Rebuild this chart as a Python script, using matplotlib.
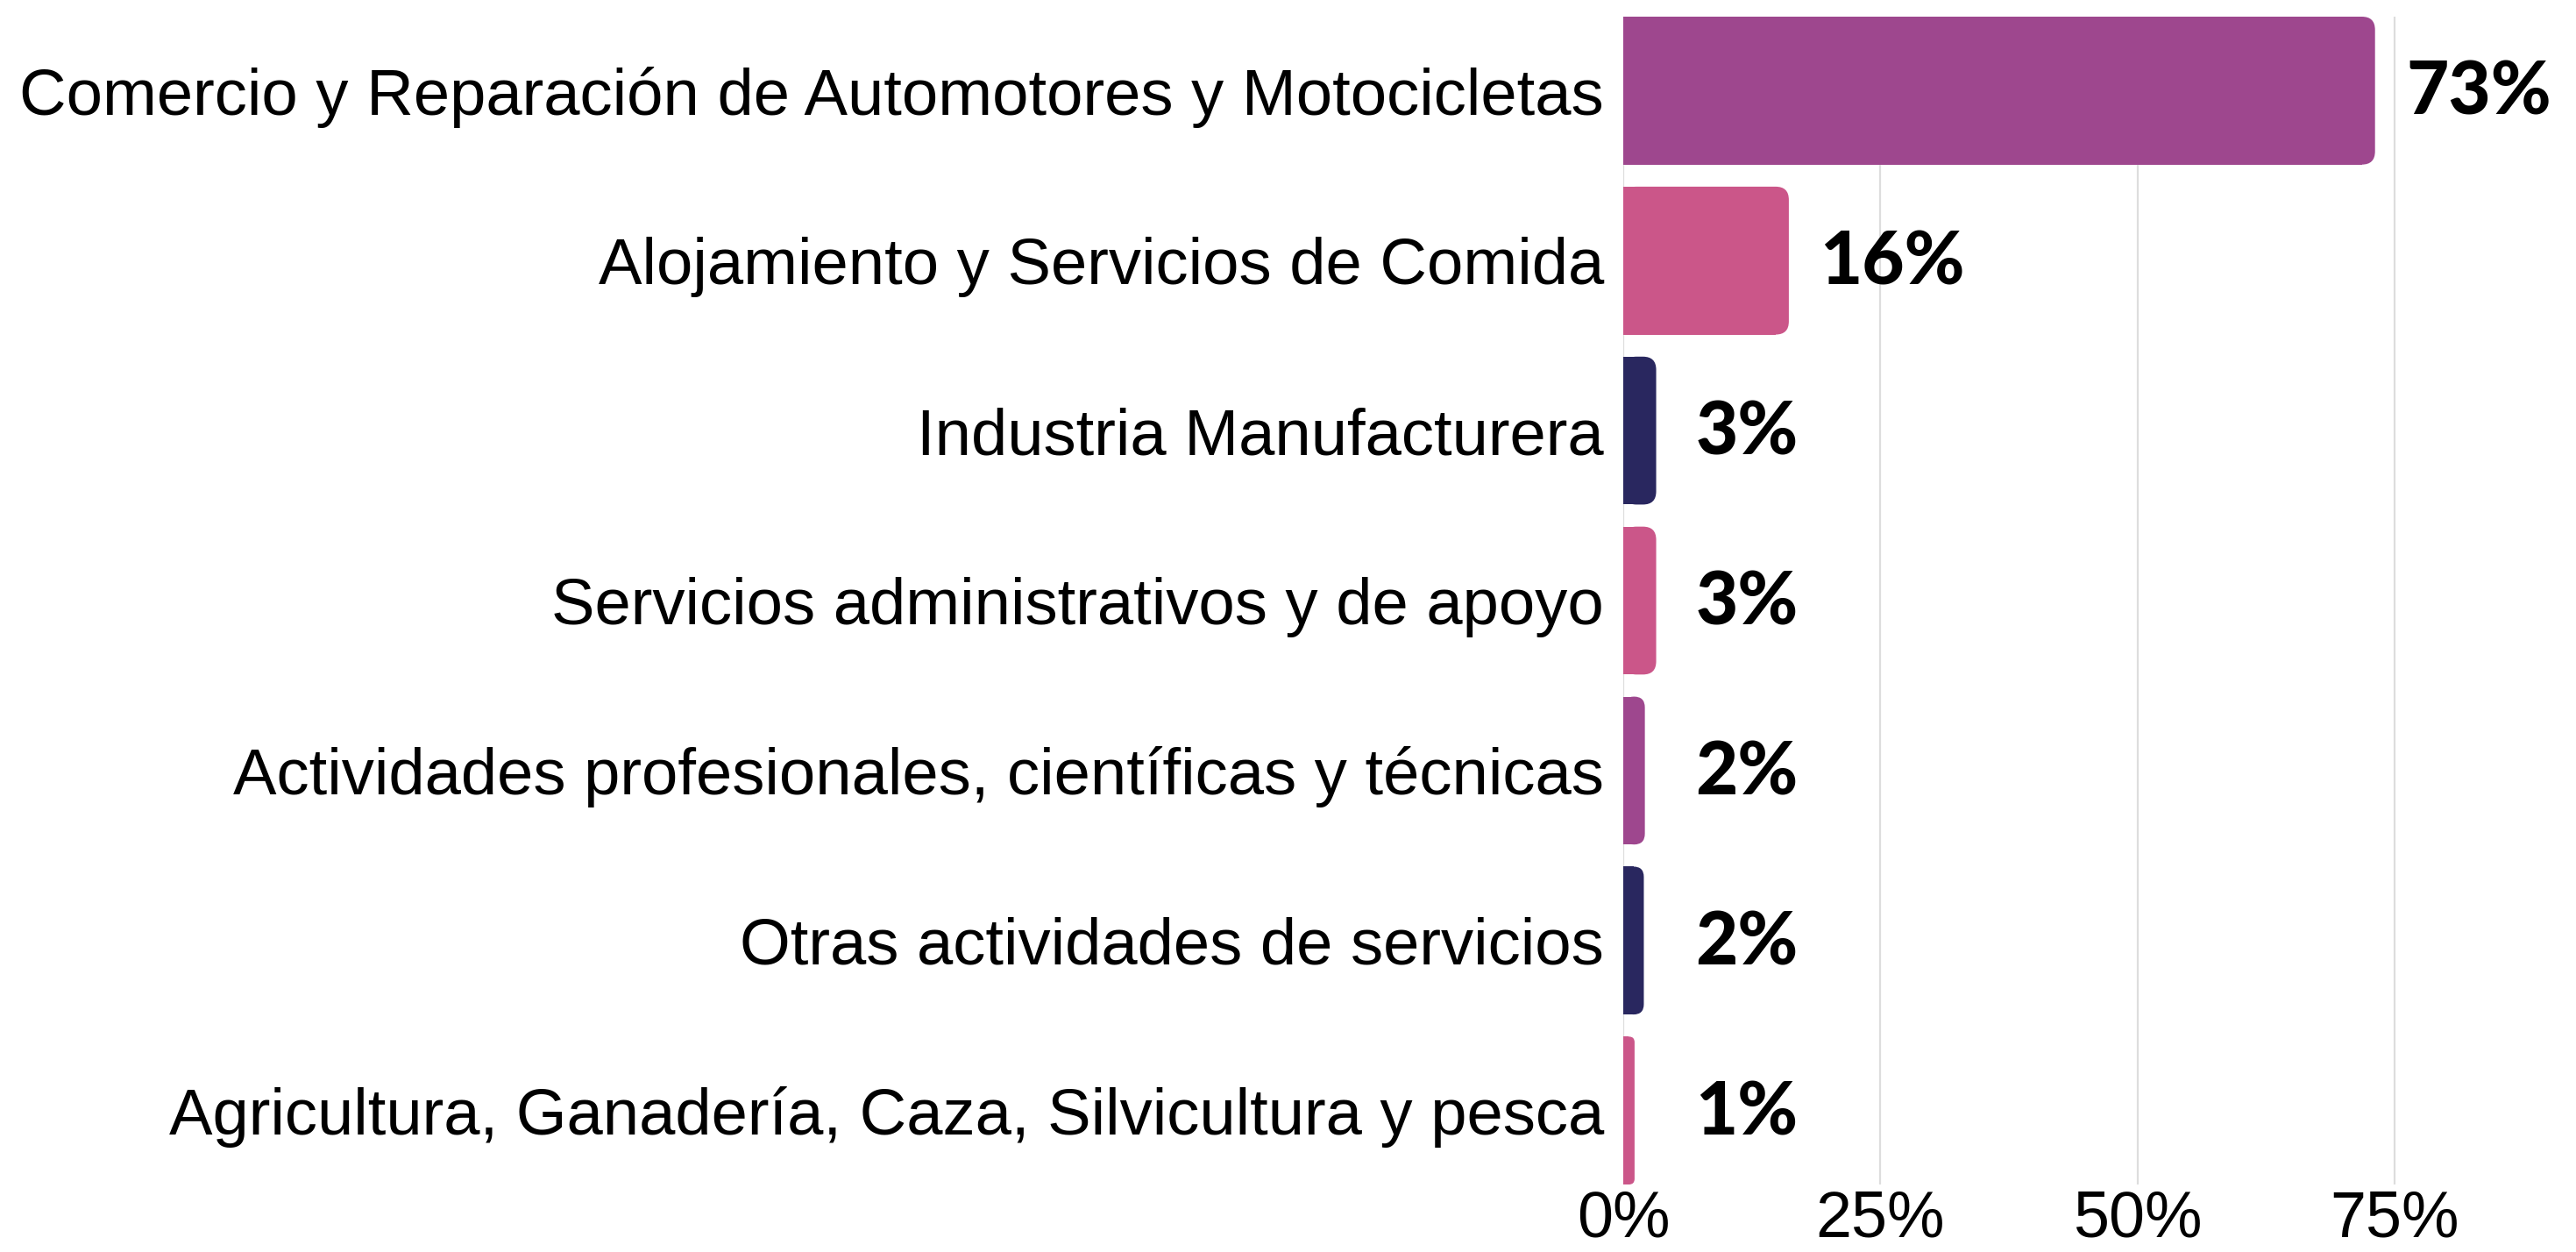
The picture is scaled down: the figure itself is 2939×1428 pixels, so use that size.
import matplotlib
matplotlib.use("Agg")
import matplotlib.pyplot as plt
from matplotlib.patches import FancyBboxPatch
import matplotlib.transforms as mtransforms
import numpy as np

categories = [
    "Comercio y Reparación de Automotores y Motocicletas",
    "Alojamiento y Servicios de Comida",
    "Industria Manufacturera",
    "Servicios administrativos y de apoyo",
    "Actividades profesionales, científicas y técnicas",
    "Otras actividades de servicios",
    "Agricultura, Ganadería, Caza, Silvicultura y pesca",
]
values = [73.1, 16.1, 3.2, 3.2, 2.1, 2.0, 1.1]
value_labels = ["73%", "16%", "3%", "3%", "2%", "2%", "1%"]
bar_colors = ["#9E478E", "#CB5689", "#29275F", "#CB5689", "#9E478E", "#29275F", "#CB5689"]
xticks = [0, 25, 50, 75]
xtick_labels = ["0%", "25%", "50%", "75%"]

W, H, DPI = 2939, 1428, 100
fig = plt.figure(figsize=(W / DPI, H / DPI), dpi=DPI)
ax_left = 1852 / W
ax_bottom = 1 - 1351 / H
ax_top = 1 - 19 / H
ax = fig.add_axes([ax_left, ax_bottom, 1 - ax_left, ax_top - ax_bottom])

bar_h = 0.87
xmax = (W - 1852) / ((2732 - 1852) / 75)
ax.set_xlim(0, xmax)
ax.set_ylim(len(categories) - 1 + bar_h / 2, -bar_h / 2)

# pixels per data unit
sx = (W - 1852) / xmax
sy = (1351 - 19) / (len(categories) - 1 + bar_h)
R_px = 15
ypos = np.arange(len(categories))

for y, v, c in zip(ypos, values, bar_colors):
    r = min(R_px / sx, v / 2)
    ax.barh(y, v - r, height=bar_h, color=c, linewidth=0, zorder=3)
    p = FancyBboxPatch((0, y - bar_h / 2), v, bar_h,
                       boxstyle=f"round,pad=0,rounding_size={r}",
                       mutation_aspect=sx / sy,
                       facecolor=c, edgecolor="none", zorder=3)
    ax.add_patch(p)

shift = mtransforms.offset_copy(ax.transData, fig=fig, x=0, y=-3, units="dots")
for y, v, lab in zip(ypos, values, value_labels):
    ax.text(max(v, 4) + 3, y, lab, ha="left", va="center",
            fontsize=60, fontweight="black", family=["Lato", "DejaVu Sans"],
            color="black", zorder=4, transform=shift)

ax.set_yticks(ypos)
ax.set_yticklabels(categories, fontsize=53.5, family=["Liberation Sans", "DejaVu Sans"])
ax.set_xticks(xticks)
ax.set_xticklabels(xtick_labels, fontsize=53, family=["Liberation Sans", "DejaVu Sans"])
ax.tick_params(axis="y", length=0, pad=16)
ax.tick_params(axis="x", length=0, pad=4)
for s in ax.spines.values():
    s.set_visible(False)
ax.grid(axis="x", color="#DDDDDD", linewidth=1.6, zorder=0)
ax.set_axisbelow(True)

fig.savefig("out.png", dpi=DPI, facecolor="white")
